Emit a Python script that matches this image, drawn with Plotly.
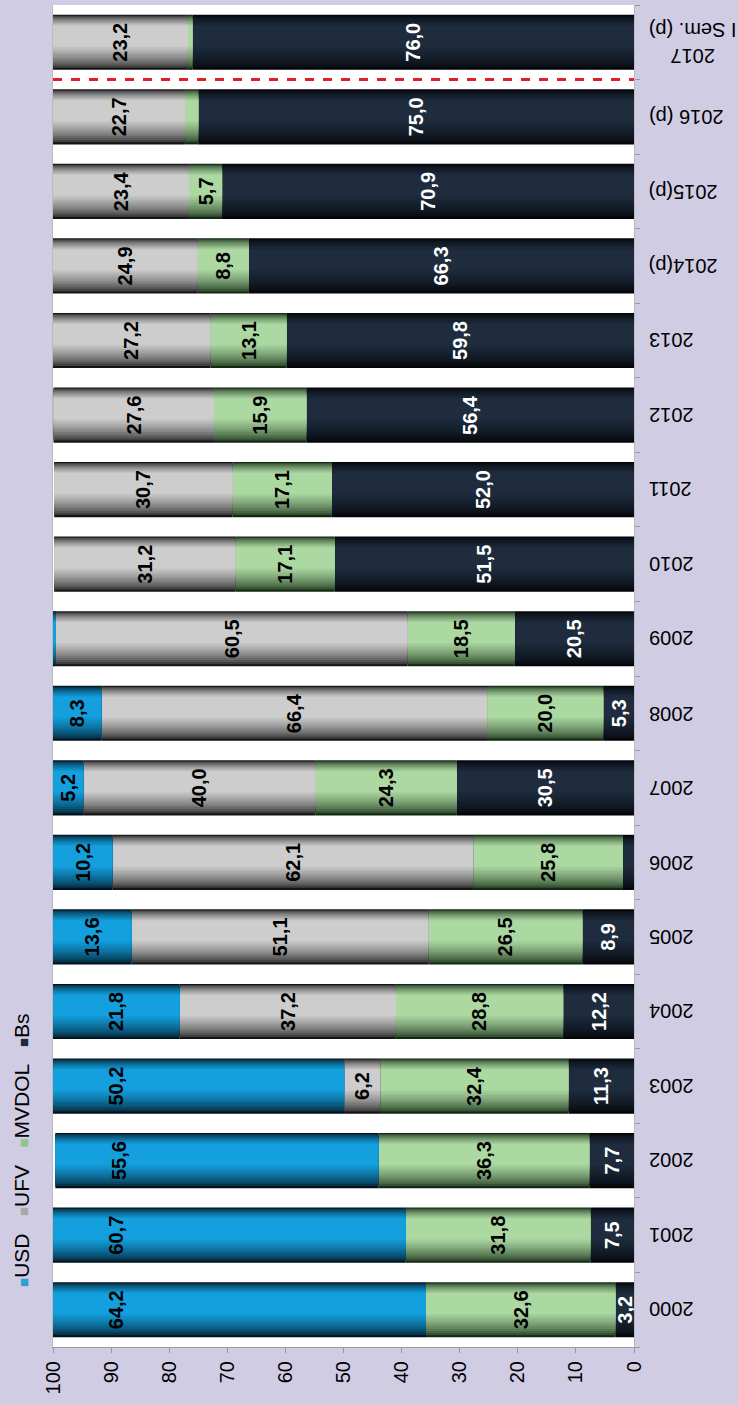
import plotly.graph_objects as go

categories = ["2000", "2001", "2002", "2003", "2004", "2005", "2006", "2007", "2008",
              "2009", "2010", "2011", "2012", "2013", "2014(p)", "2015(p)", "2016 (p)",
              "2017<br>I Sem. (p)"]
series_names = ["Bs", "MVDOL", "UFV", "USD"]
bs = [3.2, 7.5, 7.7, 11.3, 12.2, 8.9, 1.9, 30.5, 5.3, 20.5, 51.5, 52.0, 56.4, 59.8, 66.3, 70.9, 75.0, 76.0]
mvdol = [32.6, 31.8, 36.3, 32.4, 28.8, 26.5, 25.8, 24.3, 20.0, 18.5, 17.1, 17.1, 15.9, 13.1, 8.8, 5.7, 2.3, 0.8]
ufv = [0, 0, 0, 6.2, 37.2, 51.1, 62.1, 40.0, 66.4, 60.5, 31.2, 30.7, 27.6, 27.2, 24.9, 23.4, 22.7, 23.2]
usd = [64.2, 60.7, 55.6, 50.2, 21.8, 13.6, 10.2, 5.2, 8.3, 0.5, 0, 0, 0, 0, 0, 0, 0, 0]
# which values carry a printed label
bs_lab = [1, 1, 1, 1, 1, 1, 0, 1, 1, 1, 1, 1, 1, 1, 1, 1, 1, 1]
mvdol_lab = [1, 1, 1, 1, 1, 1, 1, 1, 1, 1, 1, 1, 1, 1, 1, 1, 0, 0]
ufv_lab = [0, 0, 0, 1, 1, 1, 1, 1, 1, 1, 1, 1, 1, 1, 1, 1, 1, 1]
usd_lab = [1, 1, 1, 1, 1, 1, 1, 1, 1, 0, 0, 0, 0, 0, 0, 0, 0, 0]
x_ticks = [0, 10, 20, 30, 40, 50, 60, 70, 80, 90, 100]

FONT = "Liberation Sans, Arial, sans-serif"
W = 0.74  # bar thickness in category units
USD_LABEL_SPAN = 21.8  # USD labels sit within the outer part of the bar

styles = {
    "Bs": dict(edge=(3, 4, 6), peak=(30, 44, 62), text="white"),
    "MVDOL": dict(edge=(18, 40, 18), peak=(172, 216, 162), text="black"),
    "UFV": dict(edge=(20, 20, 20), peak=(205, 205, 205), text="black"),
    "USD": dict(edge=(2, 18, 30), peak=(20, 160, 222), text="black"),
}
legend_colors = {"USD": "#2b9fd6", "UFV": "#a8a8a8", "MVDOL": "#8fc48a", "Bs": "#1c2a3a"}

data = {"Bs": bs, "MVDOL": mvdol, "UFV": ufv, "USD": usd}
labs = {"Bs": bs_lab, "MVDOL": mvdol_lab, "UFV": ufv_lab, "USD": usd_lab}

fig = go.Figure()

bases = [0.0] * len(categories)
K = 12
label_traces = []
for name in series_names:
    vals = data[name]
    st = styles[name]
    for k in range(K):
        f = k / (K - 1)
        a = 0.2 * f
        b = 1 - 0.42 * f
        g = f ** 0.6
        col = tuple(int(st["edge"][i] + (st["peak"][i] - st["edge"][i]) * g) for i in range(3))
        fig.add_trace(go.Bar(
            orientation="h", y=categories, x=vals, base=list(bases),
            width=(b - a) * W, offset=W / 2 - b * W,
            marker=dict(color="rgb(%d,%d,%d)" % col, line=dict(width=0)),
            showlegend=False, hoverinfo="skip"))
    texts = [("%.1f" % v).replace(".", ",") if l else "" for v, l in zip(vals, labs[name])]
    if name == "USD":
        lx = [min(v, USD_LABEL_SPAN) for v in vals]
        lb = [bb + v - m for bb, v, m in zip(bases, vals, lx)]
    else:
        lx = vals
        lb = list(bases)
    label_traces.append(go.Bar(
        orientation="h", y=categories, x=lx, base=lb, width=W,
        marker=dict(color="rgba(0,0,0,0)", line=dict(width=0)),
        text=texts, textposition="inside", insidetextanchor="middle", textangle=-90,
        textfont=dict(family=FONT, size=20, color=st["text"], weight="bold"),
        showlegend=False, hoverinfo="skip"))
    bases = [bb + v for bb, v in zip(bases, vals)]

for t in label_traces:
    fig.add_trace(t)

# red dashed separator between 2016 and 2017
fig.add_shape(type="line", xref="paper", yref="y", x0=0, x1=1.0, y0=16.5, y1=16.5,
              line=dict(color="#e41e26", width=3, dash="dash"))

# category labels (upside down, right of the plot)
for i, c in enumerate(categories):
    fig.add_annotation(xref="paper", yref="y", x=1.022, y=i, text=c, textangle=180,
                       xanchor="left", yanchor="middle", align="center", showarrow=False,
                       font=dict(family=FONT, size=20, color="black"))

legend_text = "   ".join(
    "<span style='color:%s;font-size:15px'>■</span>%s" % (legend_colors[n], n)
    for n in ["USD", "UFV", "MVDOL", "Bs"])
fig.add_annotation(xref="paper", yref="paper", x=-0.053, y=0.147, text=legend_text,
                   textangle=-90, showarrow=False, xanchor="center", yanchor="middle",
                   font=dict(family=FONT, size=21, color="black"))

fig.update_layout(
    width=738, height=1405,
    margin=dict(l=53, r=104, t=5, b=58),
    paper_bgcolor="#d0cce3", plot_bgcolor="white",
    barmode="overlay",
    uniformtext=dict(minsize=17, mode="show"),
    font=dict(family=FONT, size=20, color="black"),
    xaxis=dict(range=[100, 0], tickvals=x_ticks, tickangle=-90, ticks="outside", ticklen=5,
               tickcolor="#999", showgrid=False, zeroline=False, showline=True,
               linecolor="#999", tickfont=dict(size=20), automargin=False),
    yaxis=dict(side="right", showticklabels=False, ticks="outside", tickson="boundaries",
               ticklen=5, tickcolor="#999", showgrid=False, zeroline=False, showline=True,
               mirror=True, linecolor="#bbb", categoryorder="array",
               categoryarray=categories, range=[-0.5, 17.5], automargin=False),
)

fig.write_html("out.html", config={"displayModeBar": False},
               post_script="document.body.style.margin='0';"
                           "document.body.style.background='#d0cce3';")
